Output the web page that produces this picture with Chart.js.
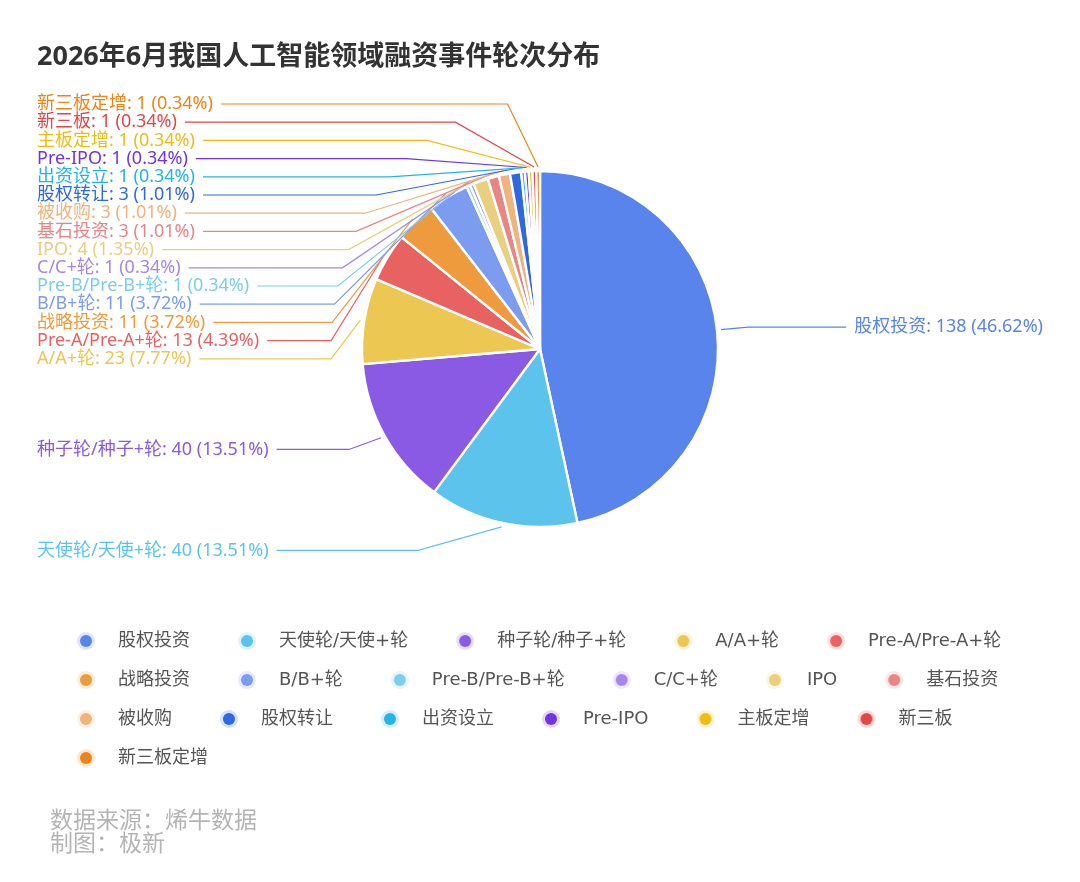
<!DOCTYPE html>
<html>
<head>
<meta charset="utf-8">
<script src="https://cdn.jsdelivr.net/npm/chart.js@4/dist/chart.umd.min.js"></script>
<style>
html,body{margin:0;padding:0;background:#fff;}
#box{width:1080px;height:882px;position:relative;}
</style>
</head>
<body>
<div id="box"><canvas id="pie"></canvas></div>
<script>
/* 融资轮次分布 */

const categories=["股权投资","天使轮/天使+轮","种子轮/种子+轮","A/A+轮","Pre-A/Pre-A+轮","战略投资","B/B+轮","Pre-B/Pre-B+轮","C/C+轮","IPO","基石投资","被收购","股权转让","出资设立","Pre-IPO","主板定增","新三板","新三板定增"];

const counts=[138,40,40,23,13,11,11,1,1,4,3,3,3,1,1,1,1,1];

const sliceColors=["#5884ec","#5cc4ec","#8a5ae4","#ecc752","#e86262","#ee9b3e","#7c9def","#7ccdee","#a687e8","#e8d07e","#e88686","#eeb47c","#3068e0","#24b4e6","#7134e0","#eebd14","#e04848","#ee8416"];

const titleText="2026年6月我国人工智能领域融资事件轮次分布";
const noteLines=["数据来源：烯牛数据","制图：极新"];

const FONT='"Noto Sans","Noto Sans CJK SC",sans-serif';
const LEGEND_FONT='"DejaVu Sans","Noto Sans CJK SC",sans-serif';
const CJK='"Noto Sans CJK SC",sans-serif';
Chart.defaults.font.family=FONT;

const total=counts.reduce((a,b)=>a+b,0);

function labelText(i){
return categories[i]+": "+counts[i]+" ("+(counts[i]/total*100).toFixed(2)+"%)";
}

// legend dot with soft halo, drawn off-centre so the text gap matches
function legendDot(color){
const c=document.createElement("canvas");
c.width=59;c.height=22;
const g=c.getContext("2d");
g.fillStyle=color;
g.globalAlpha=0.2;
g.beginPath();g.arc(36,11,9,0,Math.PI*2);g.fill();
g.globalAlpha=1;
g.beginPath();g.arc(36,11,6,0,Math.PI*2);g.fill();
return c;
}

// push overlapping labels apart, then pull each group back up
function spread(list,gap,minY){
list.sort((a,b)=>a.y-b.y);
const groups=[];
let prev=null;
list.forEach(it=>{
it.ny=it.y;
if(prev && it.y<prev.y+gap){
it.y=prev.y+gap;
groups[groups.length-1].push(it);
}else{
groups.push([it]);
}
prev=it;
});
let lastEnd=-Infinity;
groups.forEach(g=>{
const shift=g.reduce((s,it)=>s+(it.y-it.ny),0)/g.length;
let top=Math.max(g[0].y-shift,minY,lastEnd+gap);
const d=top-g[0].y;
g.forEach(it=>{it.y+=d;});
lastEnd=g[g.length-1].y;
});
}

const pieLabels={
id:"pieLabels",
afterDatasetsDraw(chart){
const ctx=chart.ctx;
const area=chart.chartArea;
const meta=chart.getDatasetMeta(0);
const items=meta.data.map((arc,i)=>{
const p=arc.getProps(["x","y","startAngle","endAngle","outerRadius"],true);
const mid=(p.startAngle+p.endAngle)/2;
const cos=Math.cos(mid),sin=Math.sin(mid);
return {i:i,cx:p.x,cy:p.y,r:p.outerRadius,cos:cos,sin:sin,left:cos<0,y:p.y+(p.outerRadius+28)*sin};
});
const leftSide=items.filter(it=>it.left);
const rightSide=items.filter(it=>!it.left);
spread(leftSide,18.2,area.top+17);
spread(rightSide,18.2,area.top+17);

ctx.save();
ctx.font="18px "+FONT;
ctx.textBaseline="middle";
ctx.lineWidth=1.2;
items.forEach(it=>{
const col=sliceColors[it.i];
const txt=labelText(it.i);
const w=ctx.measureText(txt).width;
const rA=it.r+31,rB=it.r+70;
const dy=it.y-it.cy;
const dx=rA*Math.sqrt(Math.max(0,1-(dy*dy)/(rB*rB)));
const dir=it.left?-1:1;
const ex=it.cx+dir*dx;
const sx=it.cx+(it.r+4)*it.cos;
const sy=it.cy+(it.r+4)*it.sin;
let tx,endX;
if(it.left){
tx=area.left+8;
endX=tx+w+8;
ctx.textAlign="left";
}else{
tx=area.right-8;
endX=tx-w-8;
ctx.textAlign="right";
}
ctx.strokeStyle=col;
ctx.beginPath();
ctx.moveTo(sx,sy);
ctx.lineTo(ex,it.y);
ctx.lineTo(endX,it.y);
ctx.stroke();
ctx.fillStyle=col;
ctx.fillText(txt,tx,it.y);
});
ctx.restore();
},
afterDraw(chart){
const ctx=chart.ctx;
ctx.save();
ctx.textAlign="left";
ctx.textBaseline="middle";
ctx.fillStyle="#333";
ctx.font="bold 27px "+FONT;
ctx.fillText(titleText,37,57);
ctx.fillStyle="#b4b4b4";
ctx.font="23px "+CJK;
noteLines.forEach((t,k)=>ctx.fillText(t,50,819+k*23));
ctx.restore();
}
};

new Chart(document.getElementById("pie"),{

type:"pie",

data:{

labels:categories,

datasets:[{

data:counts,

backgroundColor:sliceColors,

borderColor:"#ffffff",

borderWidth:2.4,

hoverOffset:0

}]

},

options:{

responsive:true,

maintainAspectRatio:false,

animation:false,

radius:178,

layout:{

padding:{top:87,bottom:105,left:29,right:29}

},

plugins:{

title:{display:false},

tooltip:{enabled:false},

legend:{

position:"bottom",

align:"start",

labels:{

usePointStyle:true,

pointStyleWidth:59,

padding:21,

color:"#555",

font:{size:18,family:LEGEND_FONT},

generateLabels:function(chart){

return categories.map((c,i)=>({

text:c,

fillStyle:sliceColors[i],

strokeStyle:sliceColors[i],

lineWidth:0,

pointStyle:legendDot(sliceColors[i]),

hidden:false,

index:i,

fontColor:"#555"

}));

}

}

}

}

},

plugins:[pieLabels]

});
</script>
</body>
</html>
